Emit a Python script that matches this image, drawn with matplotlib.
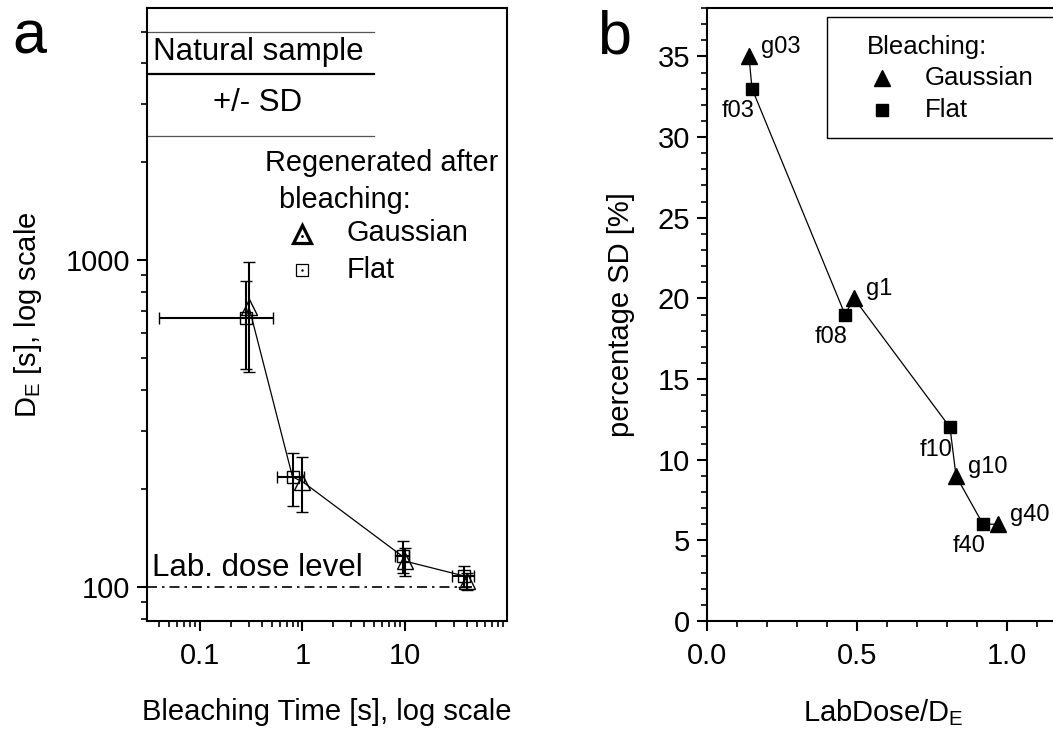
import numpy as np
import matplotlib
matplotlib.use("Agg")
import matplotlib.pyplot as plt
from matplotlib.patches import Rectangle

plt.rcParams["font.family"] = ["Liberation Sans", "DejaVu Sans"]
plt.rcParams["mathtext.fontset"] = "custom"
plt.rcParams["mathtext.rm"] = "Liberation Sans"
plt.rcParams["mathtext.default"] = "regular"

# panel a: DE vs bleaching time
gauss_time = [0.3, 1.0, 10.0, 40.0]
gauss_de = [720, 210, 120, 104]
gauss_de_err = [265, 40, 12, 6]

flat_time = [0.28, 0.8, 9.5, 38.0]
flat_time_err = [0.24, 0.24, 1.5, 9.0]
flat_de = [665, 217, 124, 108]
flat_de_err = [200, 40, 14, 8]

natural_mean = 3700
natural_sd = 1300
lab_dose = 100

# panel b: percentage SD vs LabDose/DE
names = ["g03", "f03", "f08", "g1", "f10", "g10", "f40", "g40"]
lab_ratio = [0.14, 0.15, 0.46, 0.49, 0.81, 0.83, 0.92, 0.97]
pct_sd = [35, 33, 19, 20, 12, 9, 6, 6]

W, H = 1053, 733
fig = plt.figure(figsize=(W / 100, H / 100), dpi=100)

def px_axes(left, top, right, bottom):
    return [left / W, (H - bottom) / H, (right - left) / W, (bottom - top) / H]

axA = fig.add_axes(px_axes(147, 8, 507, 621))
axB = fig.add_axes(px_axes(707, 8, 1067, 621))

def fa(px, py):
    # pixel -> axes fraction for panel a
    return (px - 147) / 360, (621 - py) / 613

def fb(px, py):
    return (px - 707) / 360, (621 - py) / 613

for ax in (axA, axB):
    for s in ax.spines.values():
        s.set_linewidth(1.5)
    ax.tick_params(which="major", direction="out", length=7, width=1.5, labelsize=21)
    ax.tick_params(which="minor", direction="out", length=4.5, width=1.2)
    ax.tick_params(axis="x", pad=8)
    ax.tick_params(axis="y", pad=5)

# ---- panel a
axA.set_xscale("log")
axA.set_yscale("log")
axA.set_xlim(0.0304, 99)
axA.set_ylim(78.7, 5900)
axA.xaxis.set_major_locator(matplotlib.ticker.FixedLocator([0.1, 1, 10]))
axA.xaxis.set_major_formatter(matplotlib.ticker.FixedFormatter(["0.1", "1", "10"]))
axA.yaxis.set_major_locator(matplotlib.ticker.FixedLocator([100, 1000]))
axA.yaxis.set_major_formatter(matplotlib.ticker.FixedFormatter(["100", "1000"]))
axA.yaxis.set_minor_formatter(matplotlib.ticker.NullFormatter())
axA.xaxis.set_minor_formatter(matplotlib.ticker.NullFormatter())

# natural sample band
xnat = [0.0304, 5.0]
axA.plot(xnat, [natural_mean + natural_sd] * 2, color="#555555", lw=0.9)
axA.plot(xnat, [natural_mean] * 2, color="black", lw=1.6)
axA.plot(xnat, [natural_mean - natural_sd] * 2, color="#555555", lw=0.9)
axA.text(*fa(153, 52), "Natural sample", transform=axA.transAxes, fontsize=22.5,
         ha="left", va="center")
axA.text(*fa(213, 103), "+/- SD", transform=axA.transAxes, fontsize=22.5,
         ha="left", va="center")

# lab dose line
axA.plot([0.0304, 45], [lab_dose, lab_dose], color="black", lw=1.2,
         linestyle=(0, (6, 3, 1.5, 3)))
axA.text(*fa(152, 568), "Lab. dose level", transform=axA.transAxes, fontsize=22.5,
         ha="left", va="center")

# connecting line through all points sorted by time
all_t = np.array(gauss_time + flat_time)
all_d = np.array(gauss_de + flat_de)
order = np.argsort(all_t)
axA.plot(all_t[order], all_d[order], color="black", lw=0.9, zorder=2)

axA.errorbar(flat_time, flat_de, yerr=flat_de_err, xerr=flat_time_err, fmt="s",
             ms=8.5, mfc="none", mec="black", mew=1.0, ecolor="black",
             elinewidth=1.5, capsize=4.5, capthick=1.5, zorder=3)
axA.errorbar(gauss_time, gauss_de, yerr=gauss_de_err, fmt="^",
             ms=12, mfc="none", mec="black", mew=1.0, ecolor="black",
             elinewidth=1.5, capsize=4.5, capthick=1.5, zorder=3)

# legend a
axA.text(*fa(265, 163), "Regenerated after", transform=axA.transAxes, fontsize=20.8,
         ha="left", va="center")
axA.text(*fa(271, 200), " bleaching:", transform=axA.transAxes, fontsize=20.8,
         ha="left", va="center")
axA.plot(*fa(302, 234), marker="^", ms=13, mfc="none", mec="black", mew=2.3,
         transform=axA.transAxes, clip_on=False)
axA.plot(*fa(302, 236), marker=".", ms=2, color="black", transform=axA.transAxes)
axA.plot(*fa(302, 270), marker="s", ms=9, mfc="none", mec="black", mew=0.9,
         transform=axA.transAxes)
axA.plot(*fa(302, 270), marker=".", ms=1.5, color="black", transform=axA.transAxes)
axA.text(*fa(347, 233), "Gaussian", transform=axA.transAxes, fontsize=20.8,
         ha="left", va="center")
axA.text(*fa(347, 270), "Flat", transform=axA.transAxes, fontsize=20.8,
         ha="left", va="center")

axA.set_xlabel("Bleaching Time [s], log scale", fontsize=21)
axA.xaxis.set_label_coords(0.5, -0.125)
axA.set_ylabel("D$_E$ [s], log scale", fontsize=21)
axA.yaxis.set_label_coords(-0.285, 0.5)

# ---- panel b
axB.set_xlim(0, 1.2)
axB.set_ylim(0, 38)
axB.set_xticks([0.0, 0.5, 1.0])
axB.set_xticklabels(["0.0", "0.5", "1.0"])
axB.set_yticks(np.arange(0, 36, 5))
axB.xaxis.set_minor_locator(matplotlib.ticker.MultipleLocator(0.1))
axB.yaxis.set_minor_locator(matplotlib.ticker.MultipleLocator(1))

axB.plot(lab_ratio, pct_sd, color="black", lw=0.9, zorder=2)
g_idx = [i for i, n in enumerate(names) if n.startswith("g")]
f_idx = [i for i, n in enumerate(names) if n.startswith("f")]
axB.plot([lab_ratio[i] for i in g_idx], [pct_sd[i] for i in g_idx], "^",
         ms=12, color="black", zorder=3)
axB.plot([lab_ratio[i] for i in f_idx], [pct_sd[i] for i in f_idx], "s",
         ms=8.5, color="black", zorder=3)
for n, x, y in zip(names, lab_ratio, pct_sd):
    if n.startswith("g"):
        axB.annotate(n, (x, y), xytext=(8.5, 6.5), textcoords="offset points",
                     fontsize=17, ha="left", va="center")
    else:
        axB.annotate(n, (x, y), xytext=(1.5, -16), textcoords="offset points",
                     fontsize=17, ha="right", va="center")

# legend b
x0, y0 = fb(827, 138)
x1, y1 = fb(1062, 17)
axB.add_patch(Rectangle((x0, y0), x1 - x0, y1 - y0, transform=axB.transAxes,
                        fill=False, ec="black", lw=1.0, clip_on=False))
axB.text(*fb(867, 47), "Bleaching:", transform=axB.transAxes, fontsize=18.5,
         ha="left", va="center")
axB.plot(*fb(882, 78), marker="^", ms=12, color="black", transform=axB.transAxes)
axB.plot(*fb(882, 110), marker="s", ms=8.5, color="black", transform=axB.transAxes)
axB.text(*fb(925, 78), "Gaussian", transform=axB.transAxes, fontsize=18.5,
         ha="left", va="center")
axB.text(*fb(925, 110), "Flat", transform=axB.transAxes, fontsize=18.5,
         ha="left", va="center")

axB.set_xlabel("LabDose/D$_E$", fontsize=21)
axB.xaxis.set_label_coords(0.49, -0.125)
axB.set_ylabel("percentage SD [%]", fontsize=21)
axB.yaxis.set_label_coords(-0.2, 0.5)

fig.text(12 / W, 1 - 10 / H, "a", fontsize=44, ha="left", va="top")
fig.text(597 / W, 1 - 10 / H, "b", fontsize=44, ha="left", va="top")

fig.savefig("out.png", dpi=100)
